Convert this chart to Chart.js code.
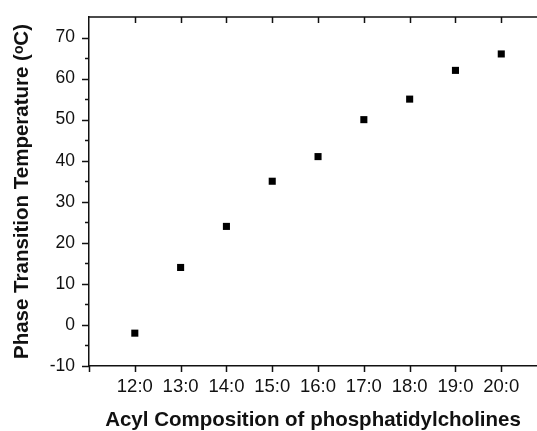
<!DOCTYPE html>
<html>
<head>
<meta charset="utf-8">
<script src="https://cdn.jsdelivr.net/npm/chart.js@4"></script>
<style>
  html, body { margin: 0; padding: 0; background: #fff; }
  canvas { display: block; }
</style>
</head>
<body>
<canvas id="graficotransicion" width="537" height="431"></canvas>
<script>
// datos
const categories = ['12:0', '13:0', '14:0', '15:0', '16:0', '17:0', '18:0', '19:0', '20:0'];
const transitionTemps = [-2, 14, 24, 35, 41, 50, 55, 62, 66];
const yTickValues = [-10, 0, 10, 20, 30, 40, 50, 60, 70];
const yMinorTicks = [-5, 5, 15, 25, 35, 45, 55, 65];

const chainLengths = categories.map(c => parseInt(c));
const fontFamily = '"Liberation Sans", Arial, sans-serif';

// marcas de los ejes (hacia afuera abajo/izquierda, hacia adentro arriba)
const tickMarks = {
    id: 'tickMarks',
    afterDraw(chart) {
        const ctx = chart.ctx;
        const area = chart.chartArea;
        const xs = chart.scales.x;
        const ys = chart.scales.y;
        ctx.save();
        ctx.strokeStyle = '#111';
        ctx.lineWidth = 1.5;
        ctx.beginPath();
        ctx.moveTo(area.left, area.top);
        ctx.lineTo(area.right, area.top);
        [xs.min].concat(chainLengths).forEach(v => {
            const px = Math.round(xs.getPixelForValue(v)) + 0.5;
            ctx.moveTo(px, area.bottom);
            ctx.lineTo(px, area.bottom + 6);
        });
        chainLengths.forEach(v => {
            const px = Math.round(xs.getPixelForValue(v)) + 0.5;
            ctx.moveTo(px, area.top);
            ctx.lineTo(px, area.top + 6);
        });
        yTickValues.forEach(v => {
            const py = Math.round(ys.getPixelForValue(v)) + 0.5;
            ctx.moveTo(area.left, py);
            ctx.lineTo(area.left - 7, py);
        });
        yMinorTicks.forEach(v => {
            const py = Math.round(ys.getPixelForValue(v)) + 0.5;
            ctx.moveTo(area.left, py);
            ctx.lineTo(area.left - 4, py);
        });
        ctx.stroke();
        ctx.restore();
    }
};

const ctx = document.getElementById('graficotransicion').getContext('2d');
new Chart(ctx, {
    type: 'scatter',
    data: {
        datasets: [{
            label: 'Tm',
            data: chainLengths.map((x, i) => ({ x: x, y: transitionTemps[i] })),
            backgroundColor: '#000',
            borderColor: '#000',
            borderWidth: 0,
            pointStyle: 'rect',
            pointRadius: 5,
            pointHoverRadius: 5
        }]
    },
    options: {
        responsive: false,
        animation: false,
        layout: {
            autoPadding: false,
            padding: { top: 17, right: 0, left: 0, bottom: 0 }
        },
        plugins: {
            legend: { display: false },
            tooltip: { enabled: false }
        },
        scales: {
            x: {
                type: 'linear',
                min: 11,
                max: 20.78,
                afterFit: scale => {
                    scale.height = 65;
                    scale.paddingLeft = 0;
                    scale.paddingRight = 0;
                },
                afterBuildTicks: scale => {
                    scale.ticks = chainLengths.map(v => ({ value: v }));
                },
                grid: { display: false, drawTicks: false },
                border: { display: true, color: '#111', width: 1.5 },
                ticks: {
                    padding: 10,
                    color: '#111',
                    maxRotation: 0,
                    autoSkip: false,
                    font: { family: fontFamily, size: 18.5 },
                    callback: (value) => {
                        const idx = chainLengths.indexOf(value);
                        return idx >= 0 ? categories[idx] : '';
                    }
                },
                title: {
                    display: true,
                    text: 'Acyl Composition of phosphatidylcholines',
                    color: '#111',
                    font: { family: fontFamily, size: 20.5, weight: 'bold', lineHeight: 1 },
                    padding: { top: 0, bottom: 0 }
                }
            },
            y: {
                min: -10,
                max: 75,
                afterFit: scale => {
                    scale.width = 89;
                    scale.paddingTop = 0;
                    scale.paddingBottom = 0;
                },
                afterBuildTicks: scale => {
                    scale.ticks = yTickValues.map(v => ({ value: v }));
                },
                grid: { display: false, drawTicks: false },
                border: { display: true, color: '#111', width: 1.5 },
                ticks: {
                    padding: 14,
                    color: '#111',
                    font: { family: fontFamily, size: 17.5 }
                },
                title: {
                    display: true,
                    text: 'Phase Transition Temperature (ᵒC)',
                    color: '#111',
                    font: { family: fontFamily, size: 20.5, weight: 'bold', lineHeight: 1 },
                    padding: { top: 12, bottom: 0 }
                }
            }
        }
    },
    plugins: [tickMarks]
});
</script>
</body>
</html>
